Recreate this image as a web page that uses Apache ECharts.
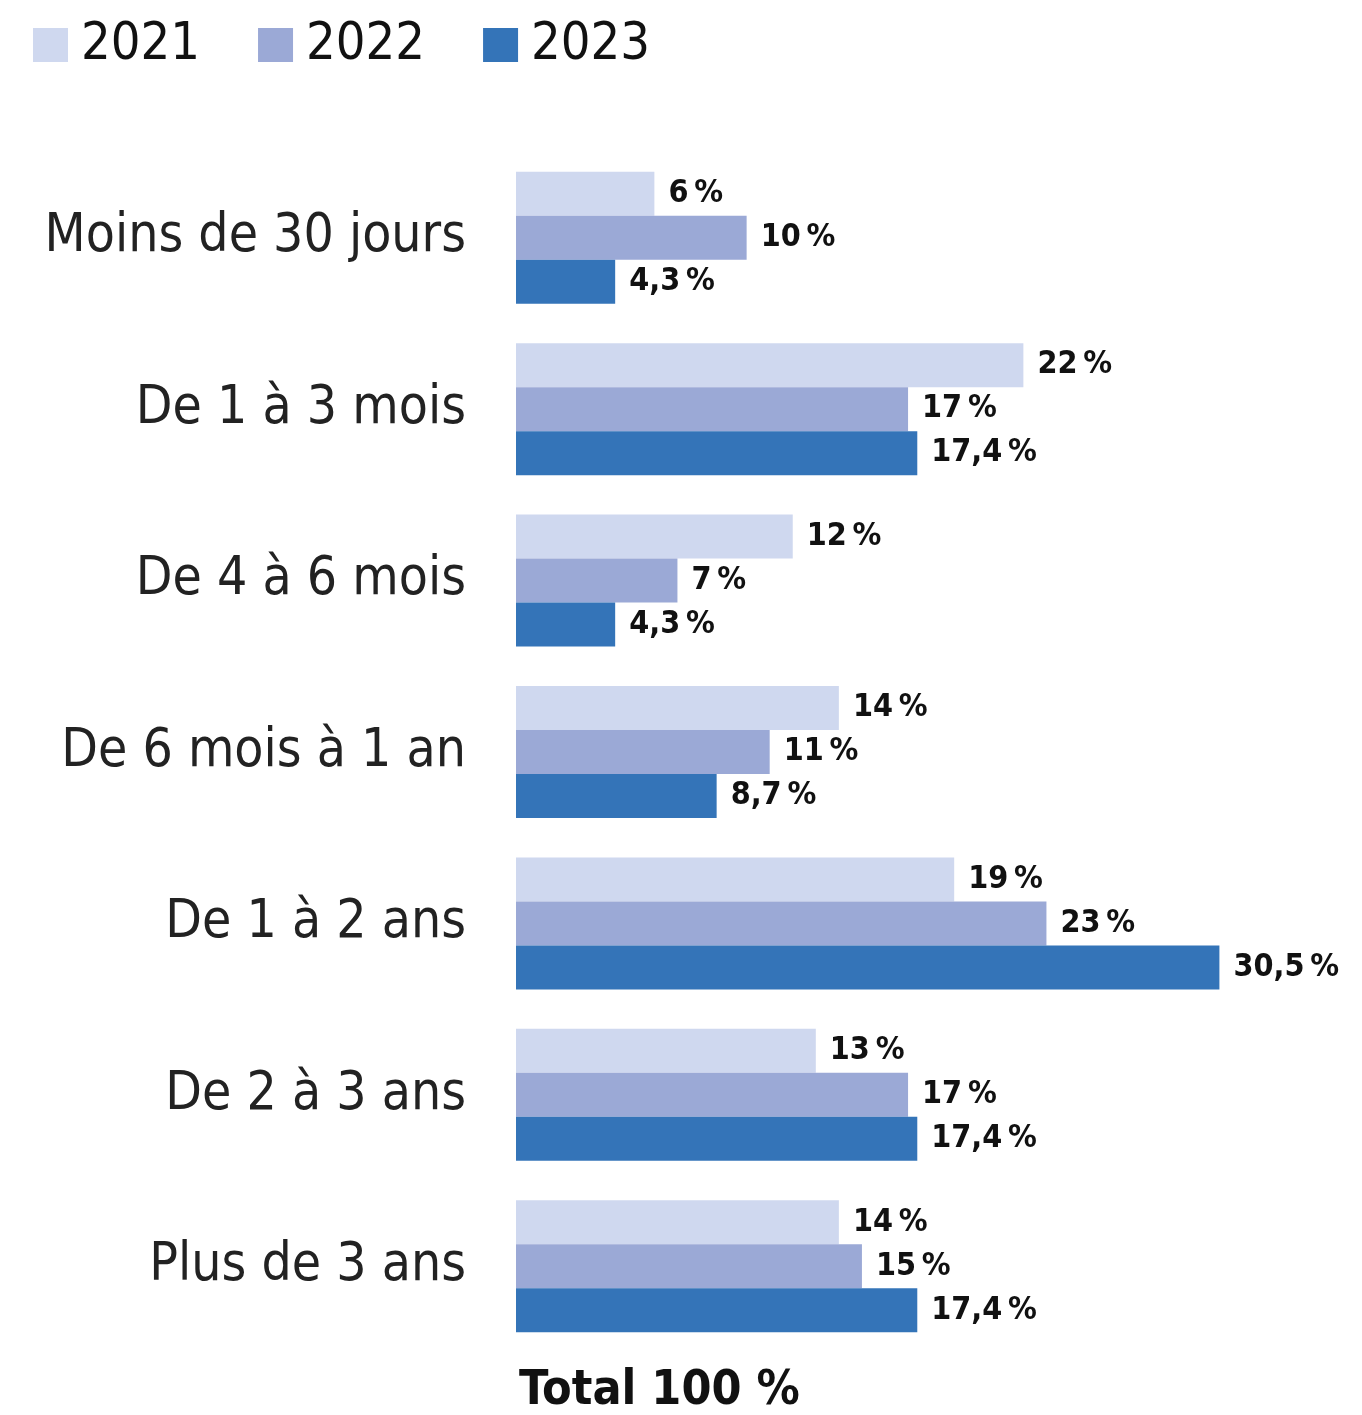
<!DOCTYPE html>
<html style="height: 100%">
<head>
    <meta charset="utf-8">
</head>
<body style="height: 100%; margin: 0; background: #fff">
<div id="main" style="width: 1362px; height: 1415px;"></div>
<script type="text/javascript" src="https://cdn.jsdelivr.net/npm/echarts@6/dist/echarts.min.js"></script>
<script type="text/javascript">
    const categories = ['Moins de 30 jours', 'De 1 à 3 mois', 'De 4 à 6 mois', 'De 6 mois à 1 an', 'De 1 à 2 ans', 'De 2 à 3 ans', 'Plus de 3 ans'];
    const years = ['2021', '2022', '2023'];
    const values2021 = [6, 22, 12, 14, 19, 13, 14];
    const values2022 = [10, 17, 7, 11, 23, 17, 15];
    const values2023 = [4.3, 17.4, 4.3, 8.7, 30.5, 17.4, 17.4];
    const colors = ['#cfd8ef', '#9ba9d6', '#3474b8'];
    const totalText = 'Total 100 %';

    const FONT = '"DejaVu Sans Condensed", "DejaVu Sans", sans-serif';

    var chart = echarts.init(document.getElementById('main'));

    // étiquette "6 %" / "4,3 %" à la française
    function fmt(p) {
        return String(p.value).replace('.', ',') + '\u2009%';
    }

    function makeSeries(name, data, idx) {
        return {
            name: name,
            type: 'bar',
            data: data,
            barWidth: 44,
            barGap: '0%',
            itemStyle: { color: colors[idx] },
            label: {
                show: true,
                position: 'right',
                distance: 14,
                formatter: fmt,
                color: '#111',
                fontFamily: FONT,
                fontWeight: 'bold',
                fontSize: 32
            },
            animation: false
        };
    }

    var option = {
        animation: false,
        legend: {
            left: 28,
            top: 14,
            itemWidth: 35,
            itemHeight: 34,
            itemGap: 58,
            icon: 'rect',
            textStyle: {
                fontFamily: FONT,
                fontSize: 52,
                color: '#111',
                padding: [0, 0, 0, 8]
            },
            data: years
        },
        grid: {
            left: 516,
            top: 152,
            height: 1200,
            width: 738
        },
        xAxis: {
            type: 'value',
            min: 0,
            max: 32,
            show: false
        },
        yAxis: {
            type: 'category',
            inverse: true,
            data: categories,
            axisLine: { show: false },
            axisTick: { show: false },
            axisLabel: {
                margin: 50,
                color: '#222',
                fontFamily: FONT,
                fontSize: 53
            }
        },
        series: [
            makeSeries(years[0], values2021, 0),
            makeSeries(years[1], values2022, 1),
            makeSeries(years[2], values2023, 2)
        ],
        graphic: [{
            type: 'text',
            left: 519,
            top: 1368,
            style: {
                text: totalText,
                fill: '#111',
                font: 'bold 48px ' + FONT
            }
        }]
    };

    chart.setOption(option);
</script>
</body>
</html>
